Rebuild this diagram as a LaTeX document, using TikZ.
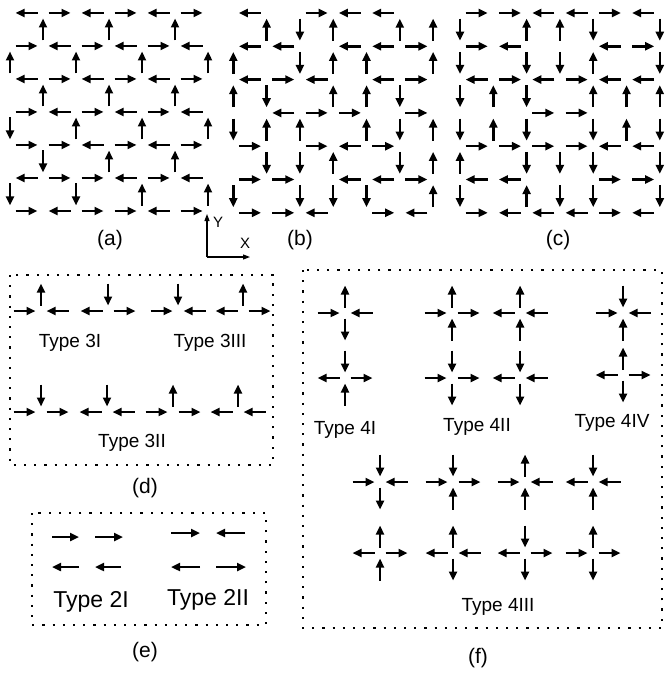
\documentclass[tikz,border=0pt]{standalone}
\usepackage{fontspec}
\setmainfont{Liberation Sans}
\usetikzlibrary{arrows.meta}

\tikzset{
  spin/.style={line width=2.5pt, -{Triangle[length=9pt,width=8pt]}},
  axis/.style={line width=1.1pt, -{Triangle[length=7pt,width=5pt]}},
  frame/.style={line width=2.2pt, dash pattern=on 2.2pt off 8pt},
  caption/.style={font=\fontsize{21}{21}\selectfont, inner sep=0pt},
  typelabel/.style={font=\fontsize{19}{19}\selectfont, inner sep=0pt},
  biglabel/.style={font=\fontsize{23}{23}\selectfont, inner sep=0pt},
  axislabel/.style={font=\fontsize{15}{15}\selectfont, inner sep=0pt},
}

% Square lattice of spins: #1,#2 = first vertex, #3 = spacing,
% #4 = horizontal rows (1 right, -1 left, 0 none),
% #5 = vertical gaps between rows (1 down, -1 up, 0 none)
\newcommand\spinlattice[5]{%
  \foreach \row [count=\j from 0] in {#4}{%
    \foreach \c [count=\i from 0] in \row {%
      \ifnum\c=0\relax\else
        \draw[spin] ({#1+#3*\i+#3/2-11*\c},{#2+#3*\j}) -- ({#1+#3*\i+#3/2+11*\c},{#2+#3*\j});
      \fi}}%
  \foreach \row [count=\j from 0] in {#5}{%
    \foreach \c [count=\i from 0] in \row {%
      \ifnum\c=0\relax\else
        \draw[spin] ({#1+#3*\i},{#2+#3*\j+#3/2-11*\c}) -- ({#1+#3*\i},{#2+#3*\j+#3/2+11*\c});
      \fi}}%
}

% One vertex with its arms: #1,#2 = position; left, right, up, down
% (1 = pointing in, -1 = pointing out, 0 = no arm)
\newcommand\spinvertex[6]{%
  \ifnum#3=0\relax\else\draw[spin] ({#1-16.5-11*#3},{#2}) -- ({#1-16.5+11*#3},{#2});\fi
  \ifnum#4=0\relax\else\draw[spin] ({#1+16.5+11*#4},{#2}) -- ({#1+16.5-11*#4},{#2});\fi
  \ifnum#5=0\relax\else\draw[spin] ({#1},{#2-16.5-11*#5}) -- ({#1},{#2-16.5+11*#5});\fi
  \ifnum#6=0\relax\else\draw[spin] ({#1},{#2+16.5+11*#6}) -- ({#1},{#2+16.5-11*#6});\fi
}

\begin{document}
\begin{tikzpicture}[x=1pt,y=-1pt]
\useasboundingbox (0,0) rectangle (664,676);

% (a)
\spinlattice{10}{13}{33}%
  {{-1,1,-1,1,-1,1},{1,-1,1,-1,1,-1},{-1,1,-1,1,-1,1},{1,-1,1,-1,1,-1},{1,1,-1,1,-1,1},{-1,1,1,-1,1,-1},{1,-1,1,1,-1,1}}%
  {{0,-1,0,-1,0,-1,0},{-1,0,-1,0,-1,0,-1},{0,-1,0,-1,0,-1,0},{1,0,-1,0,-1,0,-1},{0,1,0,-1,0,-1,0},{1,0,1,0,-1,0,-1}}

% (b)
\spinlattice{233.3}{13}{33.3}%
  {{-1,0,1,-1,-1,0},{-1,-1,0,-1,-1,1},{-1,1,-1,0,-1,1},{0,-1,1,1,0,1},{1,0,1,-1,1,0},{1,1,0,-1,-1,1},{1,1,-1,0,1,-1}}%
  {{0,-1,1,-1,0,-1,-1},{-1,0,1,-1,-1,0,-1},{-1,1,0,-1,-1,1,0},{1,-1,-1,0,-1,1,-1},{0,1,1,-1,0,1,-1},{1,0,1,1,1,0,-1}}

% (c)
\spinlattice{460}{13}{33.3}%
  {{1,1,-1,-1,1,-1},{1,-1,0,0,-1,1},{-1,1,-1,1,-1,-1},{0,0,1,1,0,0},{1,1,1,1,-1,-1},{-1,-1,0,0,1,1},{1,-1,-1,-1,1,-1}}%
  {{1,0,-1,-1,1,0,1},{1,0,1,1,-1,0,1},{1,-1,1,0,-1,-1,-1},{1,-1,1,0,1,-1,1},{-1,0,1,1,1,0,1},{1,0,-1,1,1,0,1}}

\node[caption] (capa) at (110,240) {(a)};
\node[caption] (capb) at (300,240) {(b)};
\node[caption] (capc) at (558,240) {(c)};

% coordinate axes
\coordinate (origin) at (207,257);
\coordinate (ytip) at (207,214);
\coordinate (xtip) at (250,257);
\draw[axis] (origin) -- (ytip);
\draw[axis] (origin) -- (xtip);
\node[axislabel] (ylab) at (218,222) {Y};
\node[axislabel] (xlab) at (245,243) {X};

% (d) three-spin vertices
\draw[frame] (10,275) rectangle (273,465);
\spinvertex{41}{311}{1}{1}{-1}{0}
\spinvertex{108}{311}{-1}{-1}{1}{0}
\spinvertex{178}{311}{1}{1}{1}{0}
\spinvertex{243}{311}{-1}{-1}{-1}{0}
\spinvertex{41}{412}{1}{-1}{1}{0}
\spinvertex{107}{412}{-1}{1}{1}{0}
\spinvertex{173}{412}{1}{-1}{-1}{0}
\spinvertex{238}{412}{-1}{1}{-1}{0}
\node[typelabel] (t3i) at (70,343) {Type 3I};
\node[typelabel] (t3iii) at (210,343) {Type 3III};
\node[typelabel] (t3ii) at (132,443) {Type 3II};
\node[caption] (capd) at (145,488) {(d)};

% (e) two-spin pairs
\draw[frame] (32,513) rectangle (266,625);
\draw[spin] (52,537) -- (79,537);
\draw[spin] (95,537) -- (123,537);
\draw[spin] (79,567) -- (52,567);
\draw[spin] (121,567) -- (95,567);
\draw[spin] (171,533) -- (200,533);
\draw[spin] (245,533) -- (216,533);
\draw[spin] (200,567) -- (171,567);
\draw[spin] (216,567) -- (246,567);
\node[biglabel] (t2i) at (91,602) {Type 2I};
\node[biglabel] (t2ii) at (208,600) {Type 2II};
\node[caption] (cape) at (145,652) {(e)};

% (f) four-spin vertices
\draw[frame] (303,270) rectangle (662,628);
\spinvertex{345}{313}{1}{1}{-1}{-1}
\spinvertex{345}{378}{-1}{-1}{1}{1}
\spinvertex{452}{313}{1}{-1}{-1}{1}
\spinvertex{452}{378}{1}{-1}{1}{-1}
\spinvertex{520}{313}{-1}{1}{-1}{1}
\spinvertex{520}{378}{-1}{1}{1}{-1}
\spinvertex{623}{313}{1}{1}{1}{1}
\spinvertex{623}{375}{-1}{-1}{-1}{-1}
\spinvertex{380}{482}{1}{1}{1}{-1}
\spinvertex{380}{553}{-1}{-1}{-1}{1}
\spinvertex{453}{482}{1}{-1}{1}{1}
\spinvertex{453}{553}{-1}{1}{-1}{-1}
\spinvertex{525}{482}{1}{1}{-1}{1}
\spinvertex{525}{553}{-1}{-1}{1}{-1}
\spinvertex{593}{482}{-1}{1}{1}{1}
\spinvertex{593}{553}{1}{-1}{-1}{-1}
\node[typelabel] (t4i) at (345,430) {Type 4I};
\node[typelabel] (t4ii) at (477,427) {Type 4II};
\node[typelabel] (t4iv) at (612,423) {Type 4IV};
\node[typelabel] (t4iii) at (498,607) {Type 4III};
\node[caption] (capf) at (478,658) {(f)};
\end{tikzpicture}
\end{document}
